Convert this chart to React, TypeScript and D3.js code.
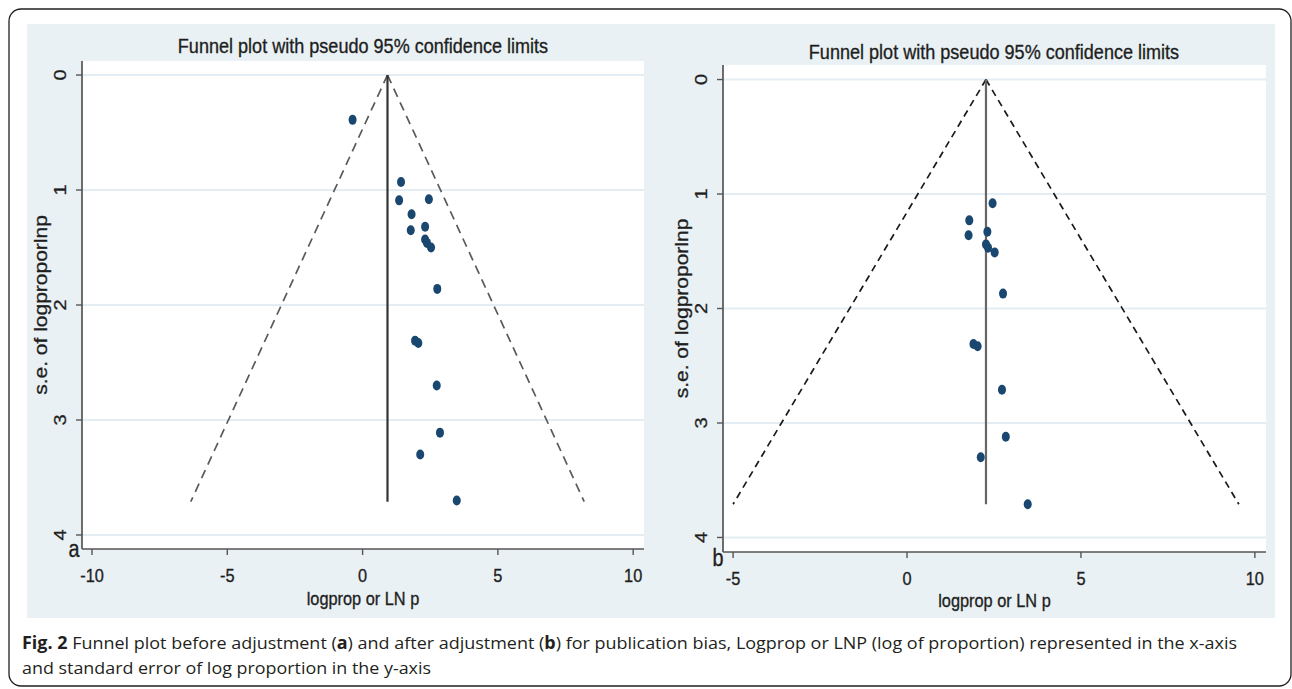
import React from "react";
import * as d3 from "d3";

// ---------- data ----------
const titleText = "Funnel plot with pseudo 95% confidence limits";
const xAxisTitle = "logprop or LN p";
const yAxisTitle = "s.e. of logproporlnp";

const xTicksA = [-10, -5, 0, 5, 10];
const xTicksB = [-5, 0, 5, 10];
const yTicks = [0, 1, 2, 3, 4];

// panel a (before adjustment): logprop, s.e.
const logpropA = [-0.37, 1.42, 1.35, 2.45, 1.81, 1.78, 2.31, 2.31, 2.38, 2.53, 2.76, 1.94, 2.06, 2.74, 2.86, 2.13, 3.48];
const seA = [0.39, 0.93, 1.09, 1.08, 1.21, 1.35, 1.32, 1.43, 1.46, 1.5, 1.86, 2.31, 2.33, 2.7, 3.11, 3.3, 3.7];

// panel b (after adjustment)
const logpropB = [2.46, 1.79, 1.77, 2.31, 2.27, 2.33, 2.52, 2.76, 1.91, 2.03, 2.73, 2.84, 2.12, 3.47];
const seB = [1.08, 1.23, 1.36, 1.33, 1.44, 1.47, 1.51, 1.87, 2.31, 2.33, 2.71, 3.12, 3.3, 3.71];

// funnel: [pooled estimate, max s.e., lower limit at max s.e., upper limit at max s.e.]
const funnelA = [0.92, 3.71, -6.35, 8.19];
const funnelB = [2.27, 3.71, -5.0, 9.54];

// axis domains (as in the original graph)
const xDomainA = [-10.37, 10.4];
const xDomainB = [-5.29, 10.32];
const yDomainA = [-0.122, 4.122];
const yDomainB = [-0.127, 4.127];

const captionLine1Parts = [
  { t: "Fig. 2", b: true },
  { t: " Funnel plot before adjustment (", b: false },
  { t: "a", b: true },
  { t: ") and after adjustment (", b: false },
  { t: "b", b: true },
  { t: ") for publication bias, Logprop or LNP (log of proportion) represented in the x-axis", b: false },
];
const captionLine2 = "and standard error of log proportion in the y-axis";

// ---------- style ----------
const BG = "#eaf1f4";
const GRID = "#e3edf3";
const MARK = "#1a476f";
const FONT = "'Liberation Sans', Arial, sans-serif";
const TXT = "#1e1e1e";
const SQ = 0.86; // horizontal squish of the original graph

type PanelCfg = {
  letter: string;
  bg: [number, number, number, number];
  plot: { l: number; r: number; t: number; b: number };
  xDomain: number[];
  yDomain: number[];
  xTicks: number[];
  xs: number[];
  ys: number[];
  funnel: number[];
  titleY: number;
  titleX: number;
  yTickX: number;
  yLabelX: number;
  xTickY: number;
  xTitleY: number;
  letterPos: [number, number];
  dashColor: string;
  dash: string;
  lineColor: string;
};

const txtProps = {
  fontFamily: FONT,
  fill: TXT,
  stroke: TXT,
  strokeWidth: 0.35,
};

function Panel({ c }: { c: PanelCfg }) {
  const x = d3.scaleLinear().domain(c.xDomain).range([c.plot.l, c.plot.r]);
  const y = d3.scaleLinear().domain(c.yDomain).range([c.plot.t, c.plot.b]);
  const [center, seMax, lo, hi] = c.funnel;
  const line = d3.line<[number, number]>().x((d) => x(d[0])).y((d) => y(d[1]));
  const leftPath = line([[center, 0], [lo, seMax]]);
  const rightPath = line([[center, 0], [hi, seMax]]);
  const vert = line([[center, 0], [center, seMax]]);
  const midY = (c.plot.t + c.plot.b) / 2;
  const midX = (c.plot.l + c.plot.r) / 2;
  return (
    <g>
      <rect x={c.bg[0]} y={c.bg[1]} width={c.bg[2]} height={c.bg[3]} fill={BG} />
      <rect x={c.plot.l} y={c.plot.t} width={c.plot.r - c.plot.l} height={c.plot.b - c.plot.t} fill="#ffffff" />
      {yTicks.map((t) => (
        <line key={"g" + t} x1={c.plot.l} x2={c.plot.r} y1={y(t)} y2={y(t)} stroke={GRID} strokeWidth={2} />
      ))}
      {/* funnel */}
      <path d={leftPath || ""} stroke={c.dashColor} strokeWidth={1.7} strokeDasharray={c.dash} fill="none" />
      <path d={rightPath || ""} stroke={c.dashColor} strokeWidth={1.7} strokeDasharray={c.dash} fill="none" />
      <path d={vert || ""} stroke={c.lineColor} strokeWidth={2.2} fill="none" />
      {/* points */}
      {c.xs.map((v, i) => (
        <ellipse key={i} cx={x(v)} cy={y(c.ys[i])} rx={4} ry={5} fill={MARK} />
      ))}
      {/* axes */}
      <line x1={c.plot.l} x2={c.plot.l} y1={c.plot.t} y2={c.plot.b} stroke="#555" strokeWidth={1.7} />
      <line x1={c.plot.l} x2={c.plot.r} y1={c.plot.b} y2={c.plot.b} stroke="#555" strokeWidth={1.7} />
      {yTicks.map((t) => (
        <g key={"yt" + t}>
          <line x1={c.plot.l - 6} x2={c.plot.l} y1={y(t)} y2={y(t)} stroke="#555" strokeWidth={1.4} />
          <g transform={`translate(${c.yTickX},${y(t)}) scale(${SQ},1) rotate(-90)`}>
            <text x={0} y={7} textAnchor="middle" fontSize={20} {...txtProps}>
              {t}
            </text>
          </g>
        </g>
      ))}
      {c.xTicks.map((t) => (
        <g key={"xt" + t}>
          <line x1={x(t)} x2={x(t)} y1={c.plot.b} y2={c.plot.b + 6} stroke="#555" strokeWidth={1.4} />
          <g transform={`translate(${x(t)},${c.xTickY}) scale(${SQ},1)`}>
            <text x={0} y={0} textAnchor="middle" fontSize={19} {...txtProps}>
              {t}
            </text>
          </g>
        </g>
      ))}
      {/* titles */}
      <g transform={`translate(${c.titleX},${c.titleY}) scale(${SQ},1)`}>
        <text x={0} y={0} textAnchor="middle" fontSize={21} {...txtProps}>
          {titleText}
        </text>
      </g>
      <g transform={`translate(${midX},${c.xTitleY}) scale(${SQ},1)`}>
        <text x={0} y={0} textAnchor="middle" fontSize={19} {...txtProps}>
          {xAxisTitle}
        </text>
      </g>
      <g transform={`translate(${c.yLabelX},${midY}) scale(${SQ},1) rotate(-90)`}>
        <text x={0} y={0} textAnchor="middle" fontSize={21} {...txtProps}>
          {yAxisTitle}
        </text>
      </g>
      <g transform={`translate(${c.letterPos[0]},${c.letterPos[1]}) scale(${SQ},1)`}>
        <text x={0} y={0} textAnchor="middle" fontSize={23} {...txtProps}>
          {c.letter}
        </text>
      </g>
    </g>
  );
}

export default function App() {
  const panelA: PanelCfg = {
    letter: "a",
    bg: [27, 24, 624, 594],
    plot: { l: 82, r: 644, t: 61, b: 549 },
    xDomain: xDomainA,
    yDomain: yDomainA,
    xTicks: xTicksA,
    xs: logpropA,
    ys: seA,
    funnel: funnelA,
    titleX: 363,
    titleY: 53,
    yTickX: 60,
    yLabelX: 47,
    xTickY: 582,
    xTitleY: 605,
    letterPos: [74, 557],
    dashColor: "#5a5a5a",
    dash: "9 6",
    lineColor: "#333",
  };
  const panelB: PanelCfg = {
    letter: "b",
    bg: [651, 24, 624, 594],
    plot: { l: 723, r: 1266, t: 65, b: 552 },
    xDomain: xDomainB,
    yDomain: yDomainB,
    xTicks: xTicksB,
    xs: logpropB,
    ys: seB,
    funnel: funnelB,
    titleX: 994,
    titleY: 59,
    yTickX: 701,
    yLabelX: 688,
    xTickY: 585,
    xTitleY: 607,
    letterPos: [718, 566],
    dashColor: "#1a1a1a",
    dash: "7 5",
    lineColor: "#666",
  };
  return (
    <svg
      width={1292}
      height={689}
      style={{ position: "absolute", left: 0, top: 0, background: "#fff" }}
    >
      <rect x={9} y={9} width={1282} height={677} rx={12} ry={12} fill="#fff" stroke="#231f20" strokeWidth={1.3} />
      <Panel c={panelA} />
      <Panel c={panelB} />
      <text
        x={22}
        y={649}
        fontSize={17}
        fontFamily="'Open Sans', sans-serif"
        fill="#231f20"
        textLength={1215}
        lengthAdjust="spacingAndGlyphs"
      >
        {captionLine1Parts.map((p, i) => (
          <tspan key={i} fontWeight={p.b ? 700 : 400}>
            {p.t}
          </tspan>
        ))}
      </text>
      <text
        x={22}
        y={674}
        fontSize={17}
        fontFamily="'Open Sans', sans-serif"
        fill="#231f20"
        textLength={409}
        lengthAdjust="spacingAndGlyphs"
      >
        {captionLine2}
      </text>
    </svg>
  );
}
